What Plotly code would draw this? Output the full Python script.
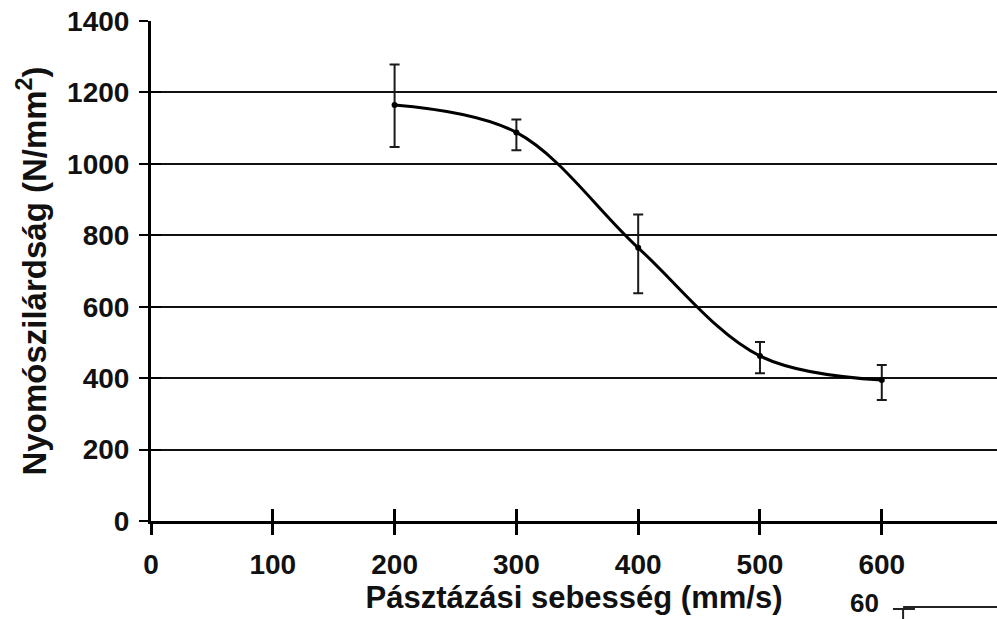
import plotly.graph_objects as go

# Scan speed (mm/s) vs. compressive strength (N/mm^2)
speed = [200, 300, 400, 500, 600]
strength = [1165, 1088, 765, 462, 395]
err_plus = [113, 36, 93, 39, 42]
err_minus = [118, 50, 127, 48, 56]

x_ticks = [0, 100, 200, 300, 400, 500, 600]
y_ticks = [0, 200, 400, 600, 800, 1000, 1200, 1400]

FONT = "Liberation Sans, Arial, sans-serif"
INK = "#111"
X_RANGE = [0, 694.6]
Y_RANGE = [0, 1400]

fig = go.Figure()

fig.add_trace(go.Scatter(
    x=speed, y=strength,
    mode="lines+markers",
    line=dict(color="black", width=3, shape="spline", smoothing=1.0),
    marker=dict(color="black", size=6),
    error_y=dict(type="data", array=err_plus, arrayminus=err_minus,
                 color="#1a1a1a", thickness=2, width=5),
    showlegend=False,
))

fig.update_layout(
    width=997, height=619,
    margin=dict(l=151, r=0, t=21, b=98),
    paper_bgcolor="white", plot_bgcolor="white",
    font=dict(family=FONT, color=INK, size=24),
    xaxis=dict(
        range=X_RANGE, tickvals=x_ticks,
        ticktext=[f"<b>{v}</b>" for v in x_ticks],
        showgrid=False, zeroline=False,
        showline=True, linecolor="black", linewidth=3,
        ticks="outside", ticklen=11, tickwidth=3, tickcolor="black",
        ticklabelstandoff=5,
        tickfont=dict(family=FONT, size=28, color=INK),
        title=dict(text="<b>Pásztázási sebesség (mm/s)</b>", standoff=5,
                   font=dict(family=FONT, size=31, color=INK)),
    ),
    yaxis=dict(
        range=Y_RANGE, tickvals=y_ticks,
        ticktext=[f"<b>{v}</b>" for v in y_ticks],
        showgrid=True, gridcolor=INK, gridwidth=2, zeroline=False,
        showline=True, linecolor="black", linewidth=3,
        ticks="outside", ticklen=9, tickwidth=2, tickcolor="black",
        ticklabelstandoff=4,
        tickfont=dict(family=FONT, size=28, color=INK),
        title=dict(text="<b>Nyomószilárdság (N/mm<sup>2</sup>)</b>", standoff=11,
                   font=dict(family=FONT, size=33, color=INK)),
    ),
    # Overlay axes drawing the inner half of the crossing tick marks
    xaxis2=dict(range=X_RANGE, overlaying="x", anchor="y", tickvals=x_ticks,
                showticklabels=False, showgrid=False, zeroline=False,
                ticks="inside", ticklen=12, tickwidth=3, tickcolor="black"),
    yaxis2=dict(range=Y_RANGE, overlaying="y", anchor="x", tickvals=y_ticks,
                showticklabels=False, showgrid=False, zeroline=False,
                ticks="inside", ticklen=10, tickwidth=2, tickcolor="black"),
)

# An invisible trace so the overlay axes are rendered
fig.add_trace(go.Scatter(x=[None], y=[None], xaxis="x2", yaxis="y2",
                         showlegend=False, hoverinfo="skip"))

# Top of the next panel, cut at the bottom edge
fig.add_annotation(text="<b>60</b>", xref="paper", yref="paper",
                   x=0.843, y=-0.164, xanchor="center", yanchor="middle",
                   showarrow=False,
                   font=dict(family=FONT, size=26, color=INK))
fig.add_shape(type="line", xref="paper", yref="paper",
              x0=0.889, x1=1.0, y0=-0.172, y1=-0.172,
              line=dict(color="#222", width=2))
fig.add_shape(type="line", xref="paper", yref="paper",
              x0=0.877, x1=0.903, y0=-0.176, y1=-0.176,
              line=dict(color="#222", width=2))
fig.add_shape(type="line", xref="paper", yref="paper",
              x0=0.889, x1=0.889, y0=-0.176, y1=-0.2,
              line=dict(color="#222", width=2))

fig.write_html("out.html")
